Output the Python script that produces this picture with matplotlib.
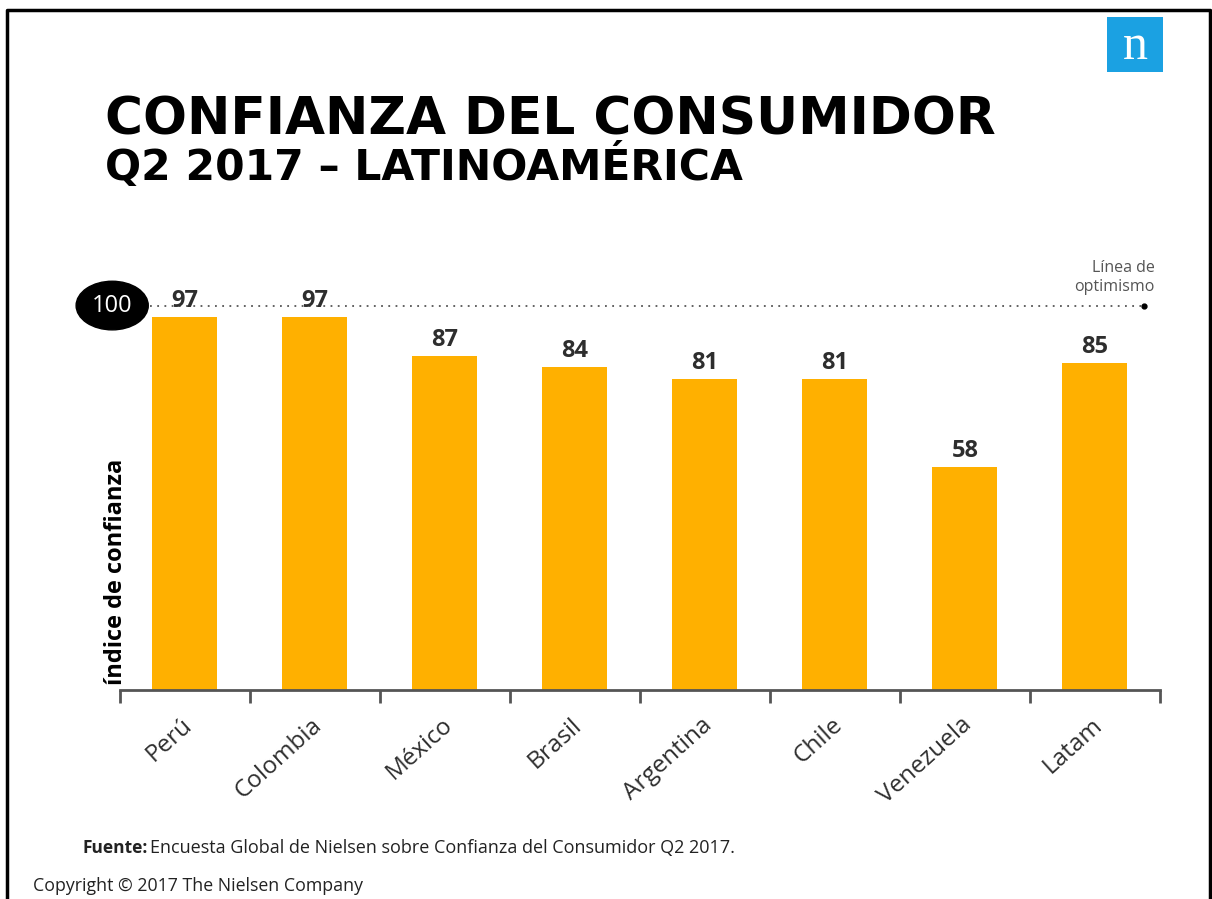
import matplotlib.pyplot as plt
from matplotlib.patches import Rectangle
import numpy as np

paises = ['Perú', 'Colombia', 'México', 'Brasil', 'Argentina', 'Chile', 'Venezuela', 'Latam']
indice = [97, 97, 87, 84, 81, 81, 58, 85]
linea_optimismo = 100

amarillo = '#FFB000'
gris = '#2e2e2e'

plt.rcParams['font.family'] = ['Open Sans', 'DejaVu Sans']

fig = plt.figure(figsize=(12.12, 8.99), dpi=100)
ax = fig.add_axes([0.099, 0.2325, 0.858, 0.449])

x = np.arange(len(paises))
ax.bar(x, indice, width=0.5, color=amarillo, zorder=2)

for xi, v in zip(x, indice):
    ax.text(xi, v + 1.0, str(v), ha='center', va='bottom', fontsize=17,
            fontweight='bold', color=gris, zorder=4)

# linea de optimismo (100)
ax.plot([-0.27, 7.38], [linea_optimismo] * 2, linestyle=(0, (1, 3)), color='#555555',
        lw=1.3, clip_on=False, zorder=3)
ax.plot([7.38], [linea_optimismo], marker='o', ms=3.5, color='black', clip_on=False)
ax.text(-0.56, linea_optimismo, str(linea_optimismo), ha='center', va='center',
        color='white', fontsize=17, clip_on=False, zorder=5,
        bbox=dict(boxstyle='ellipse,pad=0.22', fc='black', ec='black'))
ax.text(7.46, 107.4, 'Línea de\noptimismo', ha='right', va='center', fontsize=11.5,
        color='#555555', linespacing=1.25)

ax.set_xlim(-0.5, 7.5)
ax.set_ylim(0, 105)
ax.set_yticks([])
for s in ['top', 'right', 'left']:
    ax.spines[s].set_visible(False)
ax.spines['bottom'].set_color('#555555')
ax.spines['bottom'].set_linewidth(2)

ax.set_xticks(np.arange(-0.5, 8, 1))
ax.set_xticklabels([])
ax.tick_params(axis='x', direction='out', length=9, width=2, color='#555555')
for xi, p in zip(x, paises):
    ax.text(xi - 0.03, -6, p, rotation=42, ha='right', va='top', rotation_mode='anchor',
            fontsize=17.5, color=gris, transform=ax.transData)

fig.text(0.096, 0.364, 'índice de confianza', rotation=90, ha='center', va='center',
         fontsize=17, fontweight='bold', color='black')

# titulos
fig.text(0.087, 0.85, 'CONFIANZA DEL CONSUMIDOR', fontsize=37.3, fontweight='bold',
         family=['DejaVu Sans'], color='black', va='baseline')
fig.text(0.087, 0.8, 'Q2 2017 – LATINOAMÉRICA', fontsize=30.6, fontweight='bold',
         family=['DejaVu Sans'], color='black', va='baseline')

# logo
fig.add_artist(Rectangle((1107 / 1212, 1 - 72 / 899), 56 / 1212, 55 / 899,
                         transform=fig.transFigure, fc='#1BA1E2', ec='none'))
fig.text(1135 / 1212, 1 - 47 / 899, 'n', ha='center', va='center', color='white',
         fontsize=36, family=['Liberation Serif', 'DejaVu Serif'])

# fuente y copyright
fig.text(83 / 1212, 0.057, 'Fuente:', fontsize=12.5, fontweight='bold', color='#222222',
         va='center')
fig.text(150 / 1212, 0.057, 'Encuesta Global de Nielsen sobre Confianza del Consumidor Q2 2017.',
         fontsize=13, color='#222222', va='center')
fig.text(33 / 1212, 0.014, 'Copyright © 2017 The Nielsen Company', fontsize=12.8,
         color='#222222', va='center')

# marco
fig.add_artist(plt.Line2D([7 / 1212, 7 / 1212, 1210 / 1212, 1210 / 1212],
                          [0, 1 - 10 / 899, 1 - 10 / 899, 0],
                          transform=fig.transFigure, color='black', lw=2.5))

fig.savefig('out.png', dpi=100)
